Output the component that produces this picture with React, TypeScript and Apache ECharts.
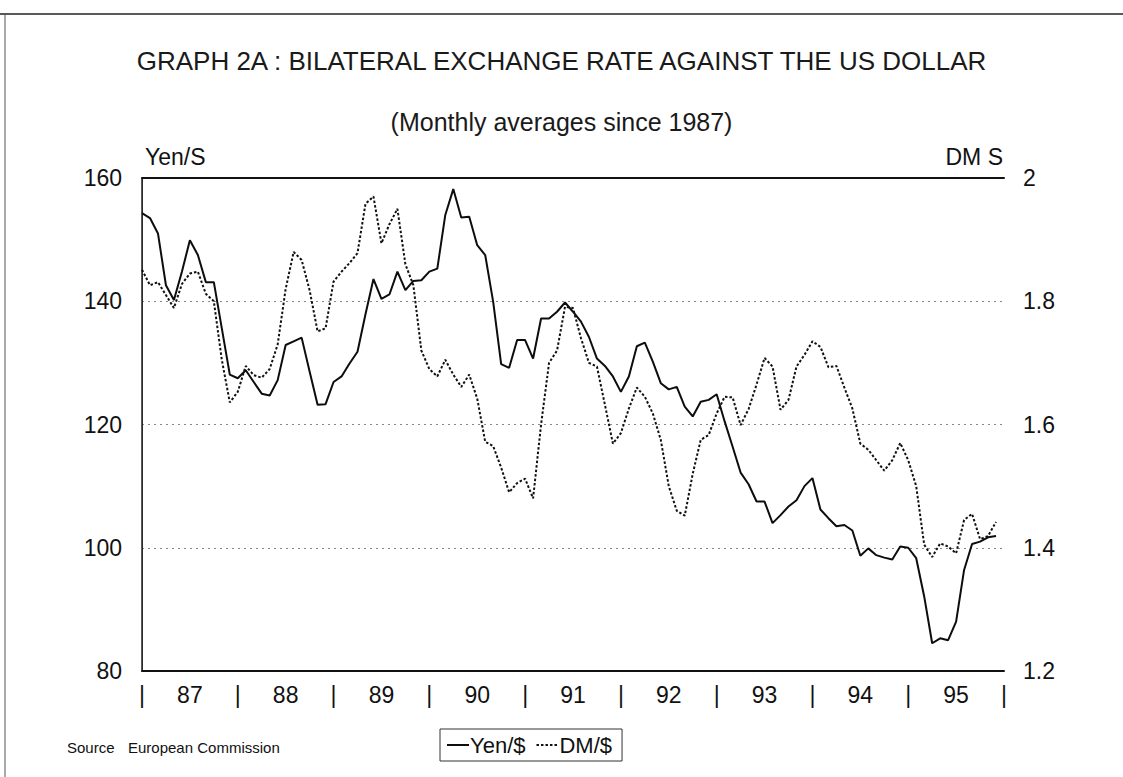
import React, { useEffect, useRef } from "react";
import * as echarts from "echarts";

const FONT = "'Liberation Sans', Arial, sans-serif";

// Year labels on the x-axis (each centred in its year), separators "|" at year boundaries
const years = ["87", "88", "89", "90", "91", "92", "93", "94", "95"];

// Monthly averages since January 1987 (month index 0 = Jan 1987)
const yenPerDollar = [
  154.3, 153.5, 151.0, 142.6, 140.2, 144.8, 149.9, 147.5, 143.1, 143.1,
  135.6, 128.1, 127.5, 128.8, 126.9, 125.0, 124.7, 127.2, 132.9, 133.5,
  134.1, 128.6, 123.2, 123.3, 126.9, 127.8, 129.9, 131.8, 137.9, 143.6,
  140.4, 141.1, 144.8, 141.8, 143.3, 143.4, 144.8, 145.3, 154.0, 158.2,
  153.6, 153.7, 149.1, 147.5, 139.9, 129.8, 129.2, 133.7, 133.7, 130.7,
  137.2, 137.2, 138.3, 139.8, 138.3, 136.7, 134.2, 130.7, 129.5, 127.8,
  125.3, 127.8, 132.7, 133.3, 130.2, 126.7, 125.7, 126.1, 122.9, 121.3,
  123.7, 124.0, 124.9, 120.5, 116.4, 112.2, 110.3, 107.5, 107.5, 104.0,
  105.3, 106.7, 107.7, 110.0, 111.3, 106.2, 104.8, 103.5, 103.7, 102.8,
  98.7, 99.9, 98.8, 98.4, 98.1, 100.2, 100.0, 98.3, 92.1, 84.5,
  85.3, 85.0, 88.0, 96.4, 100.6, 101.0, 101.7, 101.9,
];

const dmPerDollar = [
  1.851, 1.826, 1.831, 1.81, 1.789, 1.828, 1.845, 1.848, 1.812, 1.8,
  1.705, 1.636, 1.653, 1.695, 1.68, 1.676, 1.69, 1.73, 1.82, 1.88,
  1.867, 1.818, 1.751, 1.756, 1.832, 1.848, 1.862, 1.878, 1.958, 1.97,
  1.894, 1.925, 1.95, 1.86, 1.826, 1.72, 1.69, 1.678, 1.705, 1.681,
  1.661, 1.681, 1.642, 1.572, 1.565, 1.53, 1.49, 1.505, 1.512, 1.48,
  1.6, 1.7, 1.72, 1.791, 1.789, 1.74, 1.7, 1.694, 1.632, 1.569,
  1.586, 1.626, 1.66, 1.645, 1.618, 1.575, 1.5, 1.46, 1.452, 1.52,
  1.575, 1.583, 1.618, 1.645, 1.644, 1.599, 1.625, 1.665, 1.708, 1.694,
  1.624, 1.64, 1.694, 1.713, 1.735, 1.726, 1.693, 1.695, 1.66, 1.626,
  1.569, 1.559, 1.542, 1.525, 1.542, 1.57, 1.542, 1.5, 1.405, 1.385,
  1.407, 1.402, 1.391, 1.445, 1.455, 1.414, 1.419, 1.442,
];

export default function App() {
  const ref = useRef<HTMLDivElement>(null);

  useEffect(() => {
    const chart = echarts.init(ref.current!, null, { renderer: "svg" });
    chart.setOption({
      animation: false,
      backgroundColor: "#ffffff",
      textStyle: { fontFamily: FONT },
      title: [
        {
          text: "GRAPH 2A : BILATERAL EXCHANGE RATE AGAINST THE US DOLLAR",
          left: "center",
          top: 43,
          textStyle: { fontFamily: FONT, fontSize: 26, fontWeight: "normal", color: "#1a1a1a" },
        },
        {
          text: "(Monthly averages since 1987)",
          left: "center",
          top: 104,
          textStyle: { fontFamily: FONT, fontSize: 25, fontWeight: "normal", color: "#1a1a1a" },
        },
      ],
      legend: {
        left: 440,
        top: 729,
        orient: "horizontal",
        borderColor: "#333",
        borderWidth: 1,
        padding: [5, 10, 5, 6],
        itemGap: 10,
        itemWidth: 22,
        itemHeight: 12,
        itemStyle: { opacity: 0 },
        textStyle: { fontFamily: FONT, fontSize: 22, color: "#111", padding: [0, 0, 0, -4] },
        data: ["Yen/$", "DM/$"],
      },
      grid: { left: 142, right: 119, top: 178, bottom: 106, containLabel: false },
      xAxis: [
        {
          type: "value",
          min: 0,
          max: 108,
          interval: 6,
          position: "bottom",
          axisLine: { show: true, lineStyle: { color: "#111", width: 2 } },
          axisTick: { show: false },
          splitLine: { show: false },
          axisLabel: {
            margin: 12,
            fontFamily: FONT,
            fontSize: 23,
            color: "#111",
            showMinLabel: true,
            showMaxLabel: true,
            hideOverlap: false,
            formatter: (v: number) => (v % 12 === 0 ? "|" : years[(v - 6) / 12]),
          },
        },
        {
          type: "value",
          min: 0,
          max: 108,
          position: "top",
          axisLine: { show: true, lineStyle: { color: "#111", width: 2 } },
          axisTick: { show: false },
          axisLabel: { show: false },
          splitLine: { show: false },
        },
      ],
      yAxis: [
        {
          type: "value",
          min: 80,
          max: 160,
          interval: 20,
          position: "left",
          axisLine: { show: true, lineStyle: { color: "#444", width: 1 } },
          axisTick: { show: false },
          axisLabel: { margin: 20, fontFamily: FONT, fontSize: 23, color: "#111" },
          splitLine: { show: true, lineStyle: { color: "#888", width: 1, type: [2, 4] } },
        },
        {
          type: "value",
          min: 1.2,
          max: 2,
          interval: 0.2,
          position: "right",
          axisLine: { show: true, lineStyle: { color: "#222", width: 1.5 } },
          axisTick: { show: false },
          axisLabel: {
            margin: 19,
            fontFamily: FONT,
            fontSize: 23,
            color: "#111",
            formatter: (v: number) => String(+v.toFixed(1)),
          },
          splitLine: { show: false },
        },
      ],
      series: [
        {
          name: "Yen/$",
          type: "line",
          xAxisIndex: 0,
          yAxisIndex: 0,
          symbol: "none",
          showSymbol: false,
          lineStyle: { color: "#0d0d0d", width: 2, type: "solid" },
          itemStyle: { color: "#0d0d0d" },
          data: yenPerDollar.map((v, i) => [i, v]),
        },
        {
          name: "DM/$",
          type: "line",
          xAxisIndex: 0,
          yAxisIndex: 1,
          symbol: "none",
          showSymbol: false,
          lineStyle: { color: "#111", width: 2, type: [2.5, 2] },
          itemStyle: { color: "#111" },
          data: dmPerDollar.map((v, i) => [i, v]),
        },
      ],
      graphic: [
        { type: "line", shape: { x1: 0, y1: 14, x2: 1123, y2: 14 }, style: { stroke: "#222", lineWidth: 1.5 } },
        { type: "line", shape: { x1: 5, y1: 14, x2: 5, y2: 777 }, style: { stroke: "#555", lineWidth: 1 } },
        {
          type: "text",
          x: 145,
          y: 157,
          style: { text: "Yen/S", fill: "#111", font: `23px ${FONT}`, align: "left", verticalAlign: "middle" },
        },
        {
          type: "text",
          x: 1003,
          y: 157,
          style: { text: "DM S", fill: "#111", font: `23px ${FONT}`, align: "right", verticalAlign: "middle" },
        },
        {
          type: "text",
          x: 67,
          y: 747,
          style: { text: "Source", fill: "#111", font: `15px ${FONT}`, align: "left", verticalAlign: "middle" },
        },
        {
          type: "text",
          x: 128,
          y: 747,
          style: { text: "European Commission", fill: "#111", font: `15px ${FONT}`, align: "left", verticalAlign: "middle" },
        },
      ],
    });
    return () => chart.dispose();
  }, []);

  return (
    <div
      ref={ref}
      style={{ position: "absolute", left: 0, top: 0, width: 1123, height: 777, background: "#fff" }}
    />
  );
}
